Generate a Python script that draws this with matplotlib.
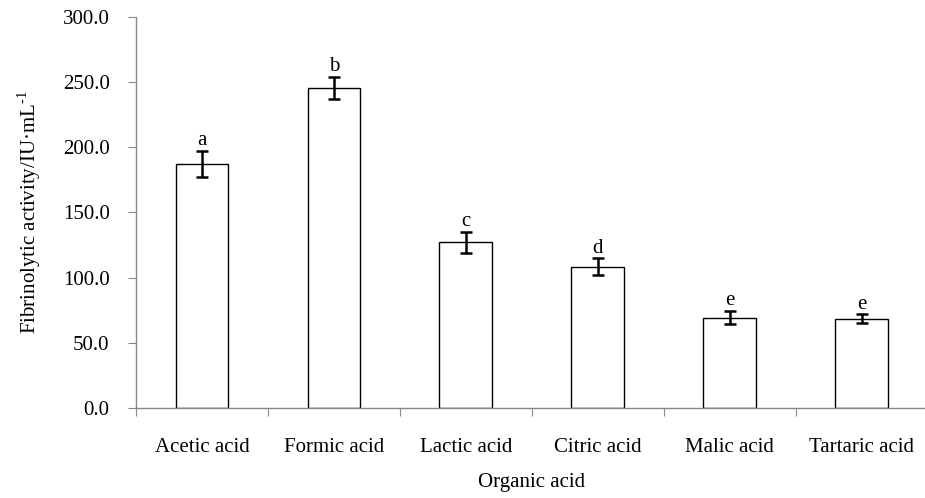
import matplotlib.pyplot as plt
import numpy as np

acids = ['Acetic acid', 'Formic acid', 'Lactic acid', 'Citric acid', 'Malic acid', 'Tartaric acid']
activity = [187.0, 245.3, 126.9, 108.4, 69.3, 68.3]
errors = [10.0, 8.6, 8.0, 6.4, 5.2, 3.5]
letters = ['a', 'b', 'c', 'd', 'e', 'e']

plt.rcParams['font.family'] = ['Liberation Serif', 'DejaVu Serif']
plt.rcParams['mathtext.fontset'] = 'custom'
plt.rcParams['mathtext.rm'] = 'Liberation Serif'

fs = 15
fig = plt.figure(figsize=(9.25, 4.98), dpi=100)
ax = fig.add_axes([0.147, 0.181, 0.856, 0.785])

x = np.arange(len(acids))
ax.bar(x, activity, width=0.4, color='white', edgecolor='black', linewidth=1.0, zorder=2)
ax.errorbar(x, activity, yerr=errors, fmt='none', ecolor='black',
            elinewidth=1.8, capsize=4, capthick=1.8, zorder=3)
for xi, v, e, lab in zip(x, activity, errors, letters):
    ax.text(xi, v + e + 0.5, lab, ha='center', va='bottom', fontsize=fs)

ax.set_xlim(-0.5, len(acids) - 0.5)
ax.set_ylim(0, 300)
ax.set_yticks(np.arange(0, 301, 50))
ax.set_yticklabels(['%.1f' % t for t in np.arange(0, 301, 50)], fontsize=fs)

# ticks between categories, labels centred under bars
ax.set_xticks(np.arange(-0.5, len(acids) - 0.4, 1.0))
ax.set_xticklabels([])
ax.set_xticks(x, minor=True)
ax.set_xticklabels(acids, minor=True, fontsize=fs)
ax.tick_params(axis='x', which='minor', length=0, pad=22)
ax.tick_params(axis='x', which='major', length=6, color='#888888', direction='out')
ax.tick_params(axis='y', length=6, color='#888888', direction='out', pad=13)

for s in ['top', 'right']:
    ax.spines[s].set_visible(False)
for s in ['left', 'bottom']:
    ax.spines[s].set_color('#888888')
    ax.spines[s].set_linewidth(1.0)

ax.set_xlabel('Organic acid', fontsize=fs, labelpad=11)
ax.set_ylabel(r'Fibrinolytic activity/IU·mL$^{\text{-1}}$', fontsize=fs, labelpad=14)

fig.savefig('out.png', dpi=100)
